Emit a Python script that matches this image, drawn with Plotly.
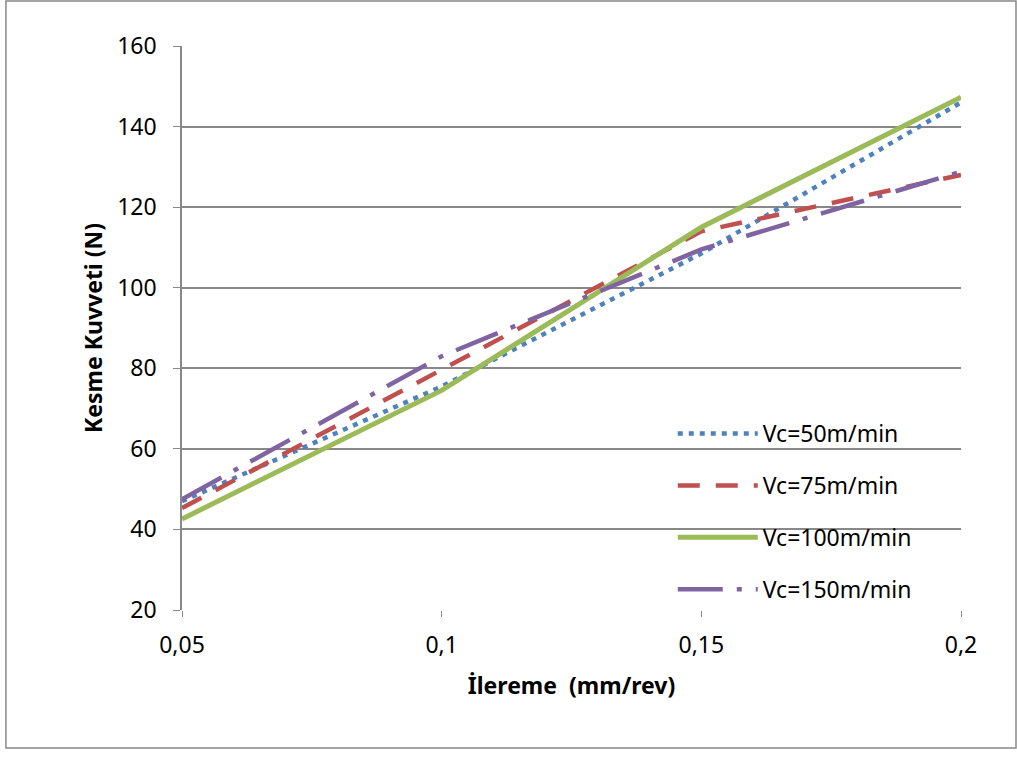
import plotly.graph_objects as go

feed = [0.05, 0.10, 0.15, 0.20]
vc50 = [47.0, 75.5, 108.5, 146.0]
vc75 = [45.3, 79.5, 114.0, 128.0]
vc100 = [42.6, 74.5, 115.0, 147.3]
vc150 = [47.5, 83.0, 109.5, 128.8]

names = ["Vc=50m/min", "Vc=75m/min", "Vc=100m/min", "Vc=150m/min"]
x_tickvals = [0.05, 0.10, 0.15, 0.20]
x_ticktext = ["0,05", "0,1", "0,15", "0,2"]
y_tickvals = [20, 40, 60, 80, 100, 120, 140, 160]

series = [vc50, vc75, vc100, vc150]
colors = ["#4F81BD", "#C0504D", "#9BBB59", "#8064A2"]
dashes = ["5px,6px", "22px,16px", "solid", "45px,14px,5px,14px"]
widths = [4.5, 4.5, 5, 4.5]

FONT = "Noto Sans"
FS = 23

fig = go.Figure()
for i, (ys, nm) in enumerate(zip(series, names)):
    fig.add_trace(go.Scatter(
        x=feed, y=ys, name=nm, mode="lines",
        line=dict(color=colors[i], width=widths[i], dash=dashes[i]),
        legendgroup=nm,
    ))

fig.update_layout(
    width=1017, height=758,
    margin=dict(l=182, r=56, t=46, b=148),
    paper_bgcolor="white", plot_bgcolor="white",
    font=dict(family=FONT, size=FS, color="black"),
    showlegend=True,
    legend=dict(x=0.63, y=0.351, xanchor="left", yanchor="top",
                bgcolor="rgba(0,0,0,0)", itemwidth=80, tracegroupgap=19,
                font=dict(family=FONT, size=FS)),
    xaxis=dict(range=[0.05, 0.2], tickvals=x_tickvals, ticktext=x_ticktext,
               showgrid=False, zeroline=False, showline=False,
               ticks="outside", ticklen=6, tickcolor="#888888",
               ticklabelstandoff=8, tickfont=dict(size=FS),
               title=dict(text="<b>İlereme  (mm/rev)</b>", font=dict(family=FONT, size=FS), standoff=19)),
    yaxis=dict(range=[20, 160], tickvals=y_tickvals,
               showgrid=True, gridcolor="#888888", gridwidth=1.5,
               zeroline=False, showline=True, linecolor="#888888", linewidth=1.5,
               ticks="outside", ticklen=7, tickcolor="#888888",
               ticklabelstandoff=12, tickfont=dict(size=FS),
               title=dict(text="<b>Kesme Kuvveti (N)</b>", font=dict(family=FONT, size=FS), standoff=8)),
)

fig.add_shape(type="rect", xref="paper", yref="paper",
              x0=-0.226, x1=1.0706, y0=-0.2447, y1=1.0798,
              line=dict(color="#888888", width=1.5), layer="below")

fig.write_html("out.html")
